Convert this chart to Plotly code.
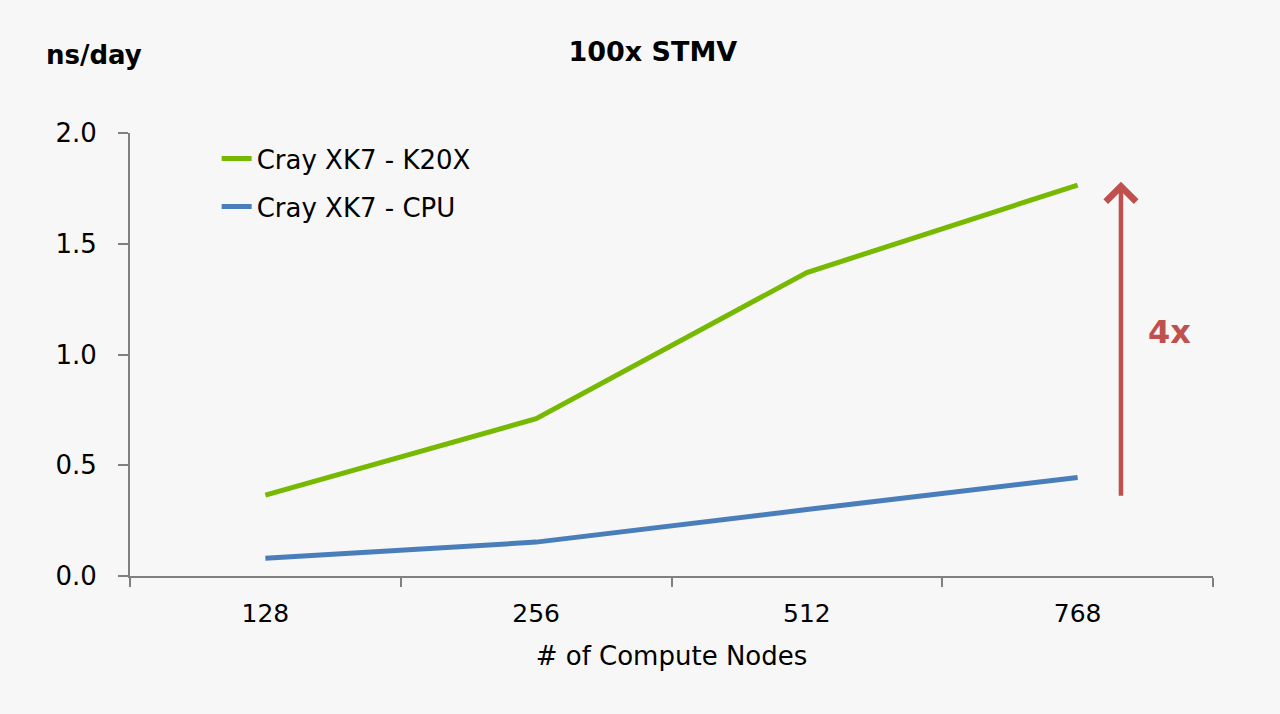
import plotly.graph_objects as go

nodes = ["128", "256", "512", "768"]
k20x = [0.365, 0.71, 1.37, 1.765]
cpu = [0.08, 0.153, 0.30, 0.445]
series_names = ["Cray XK7 - K20X", "Cray XK7 - CPU"]
y_ticks = [0.0, 0.5, 1.0, 1.5, 2.0]

FONT = "DejaVu Sans"
fig = go.Figure()
fig.add_trace(go.Scatter(x=nodes, y=k20x, mode="lines", name=series_names[0],
                         legendgroup="a",
                         line=dict(color="#76b900", width=5)))
fig.add_trace(go.Scatter(x=nodes, y=cpu, mode="lines", name=series_names[1],
                         legendgroup="b",
                         line=dict(color="#4a7ebb", width=5)))

fig.update_layout(
    width=1280, height=714,
    paper_bgcolor="#f7f7f7", plot_bgcolor="#f7f7f7",
    margin=dict(l=130, r=67, t=133, b=138),
    font=dict(family=FONT, size=26, color="#000000"),
    title=dict(text="<b>100x STMV</b>", x=0.51, xanchor="center", y=0.928, yanchor="middle",
               font=dict(size=27, family=FONT)),
    showlegend=True,
    legend=dict(x=0.08, y=0.995, xanchor="left", yanchor="top",
                bgcolor="rgba(0,0,0,0)", font=dict(size=26, family=FONT),
                tracegroupgap=11),
    xaxis=dict(type="category", range=[-0.5, 3.5], tickson="boundaries",
               ticks="outside", ticklen=9,
               tickwidth=2, tickcolor="#808080", showline=True, linecolor="#808080",
               linewidth=2, showgrid=False, zeroline=False, ticklabelstandoff=14,
               title=dict(text="# of Compute Nodes", font=dict(size=26), standoff=20),
               tickfont=dict(size=25)),
    yaxis=dict(range=[0, 2], tickvals=y_ticks, tickformat=".1f", ticks="outside",
               ticklen=10, tickwidth=2, tickcolor="#808080", showline=True,
               linecolor="#808080", linewidth=2, showgrid=False, zeroline=False,
               ticklabelstandoff=16, tickfont=dict(size=26)),
)

fig.add_annotation(xref="paper", yref="paper", x=-0.079, y=1.177, xanchor="left",
                   yanchor="middle", text="<b>ns/day</b>", showarrow=False,
                   font=dict(size=26, family=FONT))

fig.add_annotation(x=3.16, y=1.78, ax=3.16, ay=0.355, xref="x", yref="y",
                   axref="x", ayref="y", showarrow=True, arrowhead=4,
                   arrowsize=1.3, arrowwidth=4.5, arrowcolor="#c0504d", text="")
fig.add_annotation(x=3.34, y=1.1, xref="x", yref="y", text="<b>4x</b>",
                   showarrow=False, font=dict(size=32, color="#c0504d", family=FONT))

fig.write_html("out.html")
